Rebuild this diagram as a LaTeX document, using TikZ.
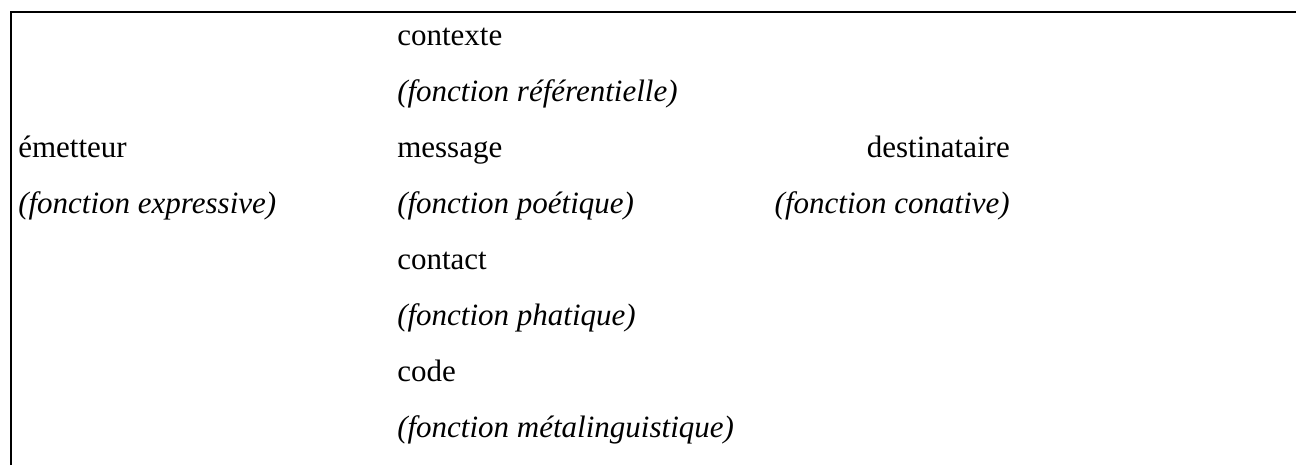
\documentclass[tikz,border=0pt]{standalone}
\usepackage{fontspec}
\setmainfont{Liberation Serif}
\usetikzlibrary{positioning}
\newcommand{\rowsep}{42pt}

\tikzset{
	role/.style={inner sep=0pt, anchor=base west, font=\fontsize{23.25}{28}\selectfont},
	fonction/.style={role, font=\fontsize{23.25}{28}\selectfont\itshape},
	frame/.style={line width=1.5pt},
}

\begin{document}
\begin{tikzpicture}[x=0.75pt, y=-0.75pt]
	\useasboundingbox (0,0) rectangle (1296,465);
	\draw[frame] (11,465) -- (11,12) -- (1296,12);

	% centre column
	\node[role] (contexte) at (397,45) {contexte};
	\node[fonction, below=\rowsep of contexte.base west, anchor=base west] (referentielle) {(fonction référentielle)};
	\node[role, below=\rowsep of referentielle.base west, anchor=base west] (message) {message};
	\node[fonction, below=\rowsep of message.base west, anchor=base west] (poetique) {(fonction poétique)};
	\node[role, below=\rowsep of poetique.base west, anchor=base west] (contact) {contact};
	\node[fonction, below=\rowsep of contact.base west, anchor=base west] (phatique) {(fonction phatique)};
	\node[role, below=\rowsep of phatique.base west, anchor=base west] (code) {code};
	\node[fonction, below=\rowsep of code.base west, anchor=base west] (metalinguistique) {(fonction métalinguistique)};

	% left and right columns
	\node[role] (emetteur) at (18,157) {émetteur};
	\node[fonction, below=\rowsep of emetteur.base west, anchor=base west] (expressive) {(fonction expressive)};
	\node[role, anchor=base east] (destinataire) at (1010,157) {destinataire};
	\node[fonction, below=\rowsep of destinataire.base east, anchor=base east] (conative) {(fonction conative)};
\end{tikzpicture}
\end{document}
